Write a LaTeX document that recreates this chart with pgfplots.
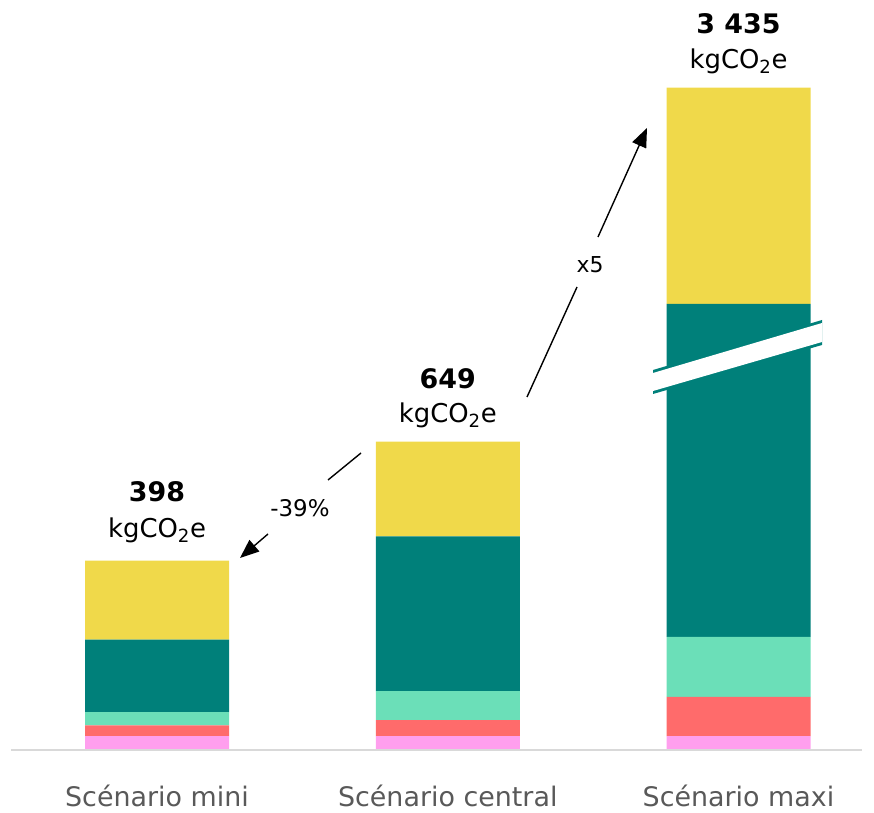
\documentclass[border=0pt]{standalone}
\usepackage{fontspec}
\setmainfont{DejaVu Sans}
\usepackage{pgfplots}
\usepackage{pgfplotstable}
\pgfplotsset{compat=1.18}
\usetikzlibrary{arrows.meta}
\definecolor{cpink}{HTML}{FF9FEE}
\definecolor{cred}{HTML}{FF6B6B}
\definecolor{cmint}{HTML}{6BDFB8}
\definecolor{cteal}{HTML}{00807A}
\definecolor{cyellow}{HTML}{F0D94A}
\definecolor{cbase}{HTML}{D9D9D9}
\definecolor{clabel}{HTML}{595959}

% kgCO2e per category; the teal value of the "maxi" scenario is really 2741,
% it is drawn shortened (703) because of the axis break shown on the bar.
\pgfplotstableread{
x pink red mint teal yellow
0 27 23 28 153 167
1 27 34 61 327 200
2 27 83 127 703 457
}\datatable

\begin{document}
\begin{tikzpicture}[x=1bp,y=1bp]
\begin{axis}[
  at={(11.625bp,64bp)}, anchor=south west,
  x=290.75bp, y=0.4735bp,
  xmin=-0.5, xmax=2.4, ymin=0, ymax=1400,
  ybar stacked, bar width=144bp,
  axis lines=none,
  clip=false,
]
\draw[cbase, line width=2bp] ([yshift=-1bp]axis cs:-0.502,0) -- ([yshift=-1bp]axis cs:2.425,0);
\addplot[fill=cpink, draw=none] table[x=x,y=pink]{\datatable};
\addplot[fill=cred, draw=none] table[x=x,y=red]{\datatable};
\addplot[fill=cmint, draw=none] table[x=x,y=mint]{\datatable};
\addplot[fill=cteal, draw=none] table[x=x,y=teal]{\datatable};
\addplot[fill=cyellow, draw=none] table[x=x,y=yellow]{\datatable};

\node[anchor=base, font=\bfseries\fontsize{27}{30}\selectfont] at ([yshift=59bp]axis cs:0,398) {398};
\node[anchor=base, font=\fontsize{26}{30}\selectfont] at ([yshift=23bp]axis cs:0,398) {kgCO\textsubscript{2}e};
\node[anchor=base, font=\bfseries\fontsize{27}{30}\selectfont] at ([yshift=53bp]axis cs:1,649) {649};
\node[anchor=base, font=\fontsize{26}{30}\selectfont] at ([yshift=19bp]axis cs:1,649) {kgCO\textsubscript{2}e};
\node[anchor=base, font=\bfseries\fontsize{27}{30}\selectfont] at ([yshift=54bp]axis cs:2,1397) {3 435};
\node[anchor=base, font=\fontsize{26}{30}\selectfont] at ([yshift=19bp]axis cs:2,1397) {kgCO\textsubscript{2}e};

\node[anchor=base, text=clabel, font=\fontsize{27}{30}\selectfont] at ([yshift=-58bp]axis cs:0,0) {Scénario mini};
\node[anchor=base, text=clabel, font=\fontsize{27}{30}\selectfont] at ([yshift=-58bp]axis cs:1,0) {Scénario central};
\node[anchor=base, text=clabel, font=\fontsize{27}{30}\selectfont] at ([yshift=-58bp]axis cs:2,0) {Scénario maxi};
\end{axis}

% axis break on the maxi bar
\fill[cteal] (653,443) -- (822,493) -- (822,468) -- (653,419) -- cycle;
\fill[white] (653,440) -- (822,490) -- (822,471) -- (653,422) -- cycle;

% arrows
\draw[line width=1.4bp] (527,416) -- (577,526);
\draw[line width=1.4bp, -{Triangle[length=19bp,width=15bp]}] (598,576) -- (647,685);
\node[font=\fontsize{22}{26}\selectfont] at (590,548) {x5};
\draw[line width=1.4bp] (361,360) -- (328,333);
\draw[line width=1.4bp, -{Triangle[length=19bp,width=15bp]}] (268,279) -- (240,255);
\node[font=\fontsize{23}{26}\selectfont] at (300,305) {-39\%};

\pgfresetboundingbox
\useasboundingbox (0,0) rectangle (874,813);
\end{tikzpicture}
\end{document}
